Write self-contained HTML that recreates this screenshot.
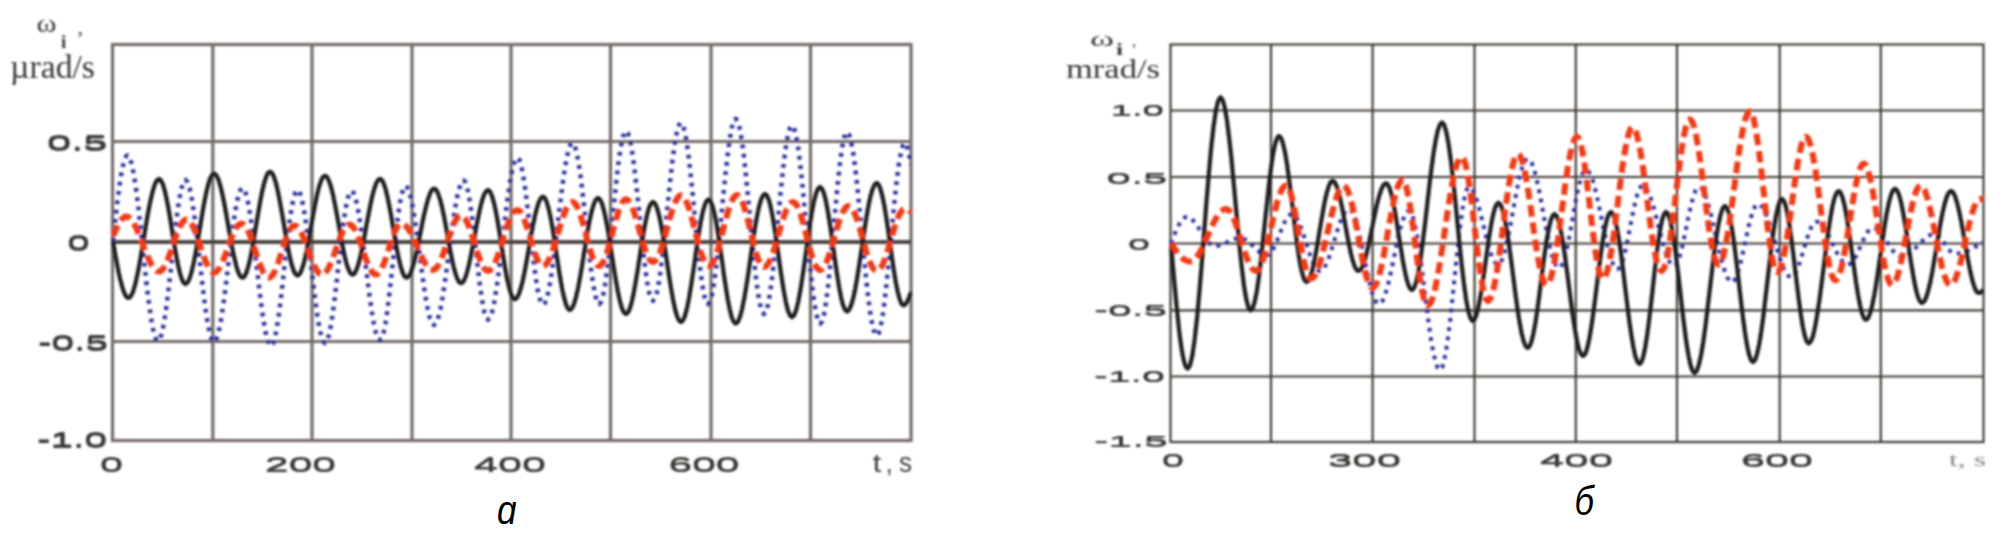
<!DOCTYPE html>
<html><head><meta charset="utf-8"><title>chart</title>
<style>html,body{margin:0;padding:0;background:#fff;}body{width:2008px;height:540px;overflow:hidden;font-family:"Liberation Sans",sans-serif;}svg{display:block;}</style>
</head><body>
<svg width="2008" height="540" viewBox="0 0 2008 540">
<rect width="2008" height="540" fill="#fff"/>
<g filter="url(#bl)">
<g stroke="#746c69" stroke-width="3.2" fill="none">
<line x1="212.8" y1="44.5" x2="212.8" y2="440.5"/>
<line x1="312" y1="44.5" x2="312" y2="440.5"/>
<line x1="412" y1="44.5" x2="412" y2="440.5"/>
<line x1="511" y1="44.5" x2="511" y2="440.5"/>
<line x1="610.5" y1="44.5" x2="610.5" y2="440.5"/>
<line x1="711" y1="44.5" x2="711" y2="440.5"/>
<line x1="810.5" y1="44.5" x2="810.5" y2="440.5"/>
<line x1="112.5" y1="141.5" x2="911" y2="141.5"/>
<line x1="112.5" y1="341.5" x2="911" y2="341.5"/>
<rect x="112.5" y="44.5" width="798.5" height="396"/>
</g>
<line x1="112.5" y1="242" x2="911" y2="242" stroke="#4a4542" stroke-width="4"/>
<g stroke="#403b35" stroke-width="2.2" fill="none">
<line x1="1271" y1="44.5" x2="1271" y2="442"/>
<line x1="1372.6" y1="44.5" x2="1372.6" y2="442"/>
<line x1="1474.5" y1="44.5" x2="1474.5" y2="442"/>
<line x1="1575.8" y1="44.5" x2="1575.8" y2="442"/>
<line x1="1677" y1="44.5" x2="1677" y2="442"/>
<line x1="1779.7" y1="44.5" x2="1779.7" y2="442"/>
<line x1="1880.8" y1="44.5" x2="1880.8" y2="442"/>
<line x1="1170.5" y1="110.5" x2="1983.5" y2="110.5"/>
<line x1="1170.5" y1="177" x2="1983.5" y2="177"/>
<line x1="1170.5" y1="243.5" x2="1983.5" y2="243.5"/>
<line x1="1170.5" y1="310.3" x2="1983.5" y2="310.3"/>
<line x1="1170.5" y1="376.5" x2="1983.5" y2="376.5"/>
<rect x="1170.5" y="44.5" width="813" height="397.5"/>
</g>
<g fill="none" stroke-linejoin="round">
<g clip-path="url(#ca)">
<path d="M113.0 241.5 L114.0 231.9 L115.1 222.3 L116.1 213.1 L117.1 204.1 L118.2 195.7 L119.2 187.8 L120.2 180.6 L121.3 174.2 L122.3 168.6 L123.4 163.9 L124.4 160.2 L125.4 157.6 L126.5 155.9 L127.5 155.4 L129.7 157.7 L131.9 164.6 L134.0 175.6 L136.2 190.3 L138.4 207.9 L140.6 227.6 L142.8 248.2 L144.9 268.8 L147.1 288.5 L149.3 306.1 L151.5 320.8 L153.6 331.8 L155.8 338.7 L158.0 341.0 L160.0 339.0 L161.9 333.0 L163.9 323.4 L165.9 310.7 L167.8 295.4 L169.8 278.4 L171.8 260.5 L173.7 242.6 L175.7 225.6 L177.6 210.3 L179.6 197.6 L181.6 188.0 L183.5 182.0 L185.5 180.0 L187.5 182.0 L189.6 188.0 L191.6 197.7 L193.6 210.5 L195.7 225.9 L197.7 243.0 L199.8 261.0 L201.8 279.0 L203.8 296.1 L205.9 311.5 L207.9 324.3 L209.9 334.0 L212.0 340.0 L214.0 342.0 L216.0 340.1 L218.1 334.4 L220.1 325.2 L222.1 313.0 L224.2 298.4 L226.2 282.1 L228.2 265.0 L230.3 247.9 L232.3 231.6 L234.4 217.0 L236.4 204.8 L238.4 195.6 L240.5 189.9 L242.5 188.0 L244.5 190.0 L246.6 195.8 L248.6 205.2 L250.6 217.7 L252.7 232.7 L254.7 249.4 L256.8 267.0 L258.8 284.6 L260.8 301.3 L262.9 316.3 L264.9 328.8 L266.9 338.2 L269.0 344.0 L271.0 346.0 L272.9 344.0 L274.8 338.3 L276.7 329.0 L278.6 316.6 L280.5 301.8 L282.4 285.4 L284.2 268.0 L286.1 250.6 L288.0 234.2 L289.9 219.4 L291.8 207.0 L293.7 197.7 L295.6 192.0 L297.5 190.0 L299.5 191.9 L301.4 197.6 L303.4 206.7 L305.4 218.8 L307.3 233.3 L309.3 249.5 L311.2 266.5 L313.2 283.5 L315.2 299.7 L317.1 314.2 L319.1 326.3 L321.1 335.4 L323.0 341.1 L325.0 343.0 L326.9 341.1 L328.8 335.5 L330.7 326.4 L332.6 314.4 L334.5 300.0 L336.4 283.9 L338.2 267.0 L340.1 250.1 L342.0 234.0 L343.9 219.6 L345.8 207.6 L347.7 198.5 L349.6 192.9 L351.5 191.0 L353.5 192.9 L355.6 198.4 L357.6 207.3 L359.6 219.1 L361.7 233.2 L363.7 248.9 L365.8 265.5 L367.8 282.1 L369.8 297.8 L371.9 311.9 L373.9 323.7 L375.9 332.6 L378.0 338.1 L380.0 340.0 L381.8 338.1 L383.6 332.4 L385.5 323.2 L387.3 311.0 L389.1 296.4 L390.9 280.1 L392.8 263.0 L394.6 245.9 L396.4 229.6 L398.2 215.0 L400.0 202.8 L401.9 193.6 L403.7 187.9 L405.5 186.0 L407.5 187.7 L409.6 192.9 L411.6 201.2 L413.6 212.2 L415.7 225.3 L417.7 240.0 L419.8 255.5 L421.8 271.0 L423.8 285.7 L425.9 298.8 L427.9 309.8 L429.9 318.1 L432.0 323.3 L434.0 325.0 L436.1 323.2 L438.2 317.8 L440.4 309.2 L442.5 297.8 L444.6 284.1 L446.7 268.8 L448.9 252.8 L451.0 236.7 L453.1 221.4 L455.2 207.7 L457.3 196.3 L459.5 187.7 L461.6 182.3 L463.7 180.5 L465.4 182.2 L467.2 187.4 L468.9 195.7 L470.6 206.7 L472.4 219.9 L474.1 234.6 L475.9 250.1 L477.6 265.5 L479.3 280.2 L481.1 293.4 L482.8 304.4 L484.5 312.7 L486.3 317.9 L488.0 319.6 L490.1 317.6 L492.2 311.6 L494.3 301.9 L496.4 289.1 L498.5 273.8 L500.6 256.7 L502.7 238.7 L504.8 220.6 L506.9 203.5 L509.0 188.2 L511.1 175.4 L513.2 165.7 L515.3 159.7 L517.4 157.7 L519.2 159.5 L521.1 165.0 L522.9 173.7 L524.7 185.4 L526.5 199.3 L528.4 214.9 L530.2 231.2 L532.0 247.6 L533.9 263.2 L535.7 277.1 L537.5 288.8 L539.3 297.5 L541.2 303.0 L543.0 304.8 L545.1 302.8 L547.2 296.8 L549.3 287.2 L551.4 274.3 L553.5 259.0 L555.6 241.9 L557.8 223.9 L559.9 205.9 L562.0 188.8 L564.1 173.5 L566.2 160.6 L568.3 151.0 L570.4 145.0 L572.5 143.0 L574.4 145.0 L576.3 151.0 L578.2 160.6 L580.2 173.3 L582.1 188.6 L584.0 205.6 L585.9 223.5 L587.8 241.4 L589.7 258.4 L591.6 273.7 L593.6 286.4 L595.5 296.0 L597.4 302.0 L599.3 304.0 L601.2 301.8 L603.1 295.4 L605.0 285.1 L606.9 271.4 L608.8 255.0 L610.7 236.7 L612.6 217.5 L614.6 198.3 L616.5 180.0 L618.4 163.6 L620.3 149.9 L622.2 139.6 L624.1 133.2 L626.0 131.0 L627.9 133.1 L629.9 139.4 L631.8 149.5 L633.7 163.0 L635.6 179.1 L637.6 197.0 L639.5 215.9 L641.4 234.8 L643.4 252.7 L645.3 268.8 L647.2 282.3 L649.1 292.4 L651.1 298.7 L653.0 300.8 L655.0 298.6 L657.0 292.0 L659.0 281.4 L661.0 267.3 L663.0 250.4 L665.0 231.6 L667.0 211.8 L669.0 192.0 L671.0 173.2 L673.0 156.3 L675.0 142.2 L677.0 131.6 L679.0 125.0 L681.0 122.8 L682.9 125.1 L684.9 131.8 L686.8 142.6 L688.7 156.9 L690.6 174.1 L692.6 193.2 L694.5 213.4 L696.4 233.6 L698.4 252.7 L700.3 269.9 L702.2 284.2 L704.1 295.0 L706.1 301.7 L708.0 304.0 L710.0 301.7 L712.0 294.8 L713.9 283.8 L715.9 269.1 L717.9 251.6 L719.9 232.0 L721.9 211.4 L723.8 190.8 L725.8 171.2 L727.8 153.7 L729.8 139.0 L731.7 128.0 L733.7 121.1 L735.7 118.8 L737.7 121.2 L739.7 128.5 L741.8 140.1 L743.8 155.5 L745.8 174.1 L747.8 194.7 L749.9 216.4 L751.9 238.1 L753.9 258.7 L755.9 277.3 L757.9 292.7 L760.0 304.3 L762.0 311.6 L764.0 314.0 L766.0 311.6 L768.0 304.7 L770.0 293.4 L772.0 278.5 L774.0 260.6 L776.0 240.7 L778.0 219.8 L780.0 198.8 L782.0 178.9 L784.0 161.0 L786.0 146.1 L788.0 134.8 L790.0 127.9 L792.0 125.5 L794.0 128.0 L796.0 135.3 L798.1 147.1 L800.1 162.8 L802.1 181.6 L804.1 202.5 L806.1 224.6 L808.2 246.6 L810.2 267.5 L812.2 286.3 L814.2 302.0 L816.3 313.8 L818.3 321.1 L820.3 323.6 L822.2 321.2 L824.1 314.1 L826.0 302.7 L827.9 287.5 L829.8 269.4 L831.7 249.1 L833.6 227.8 L835.6 206.5 L837.5 186.2 L839.4 168.1 L841.3 152.9 L843.2 141.5 L845.1 134.4 L847.0 132.0 L849.1 134.6 L851.2 142.1 L853.4 154.2 L855.5 170.3 L857.6 189.7 L859.7 211.2 L861.9 233.8 L864.0 256.5 L866.1 278.0 L868.2 297.4 L870.3 313.5 L872.5 325.6 L874.6 333.1 L876.7 335.7 L878.7 333.3 L880.7 326.2 L882.8 314.7 L884.8 299.4 L886.8 281.2 L888.8 260.8 L890.9 239.4 L892.9 217.9 L894.9 197.5 L896.9 179.3 L898.9 164.0 L901.0 152.5 L903.0 145.4 L905.0 143.0 L905.4 143.1 L905.9 143.6 L906.3 144.2 L906.7 145.2 L907.1 146.4 L907.6 147.8 L908.0 149.4 L908.4 151.3 L908.9 153.3 L909.3 155.5 L909.7 157.7 L910.1 160.1 L910.6 162.5 L911.0 165.0" stroke="#2c3398" stroke-width="4.5" stroke-dasharray="3.8 5.6"/>
<path d="M113.0 241.5 L114.1 247.8 L115.2 254.1 L116.3 260.2 L117.4 266.0 L118.5 271.6 L119.6 276.7 L120.8 281.5 L121.9 285.7 L123.0 289.3 L124.1 292.4 L125.2 294.8 L126.3 296.6 L127.4 297.6 L128.5 298.0 L130.7 296.5 L132.9 292.1 L135.0 285.0 L137.2 275.6 L139.4 264.3 L141.6 251.7 L143.8 238.5 L145.9 225.3 L148.1 212.7 L150.3 201.4 L152.5 192.0 L154.6 184.9 L156.8 180.5 L159.0 179.0 L160.9 180.3 L162.8 184.2 L164.7 190.5 L166.6 198.8 L168.5 208.7 L170.4 219.8 L172.2 231.5 L174.1 243.2 L176.0 254.3 L177.9 264.2 L179.8 272.5 L181.7 278.8 L183.6 282.7 L185.5 284.0 L187.5 282.6 L189.6 278.5 L191.6 271.9 L193.6 263.2 L195.7 252.7 L197.7 241.0 L199.8 228.8 L201.8 216.5 L203.8 204.8 L205.9 194.3 L207.9 185.6 L209.9 179.0 L212.0 174.9 L214.0 173.5 L216.0 174.8 L218.1 178.7 L220.1 184.9 L222.1 193.1 L224.2 203.0 L226.2 214.0 L228.2 225.6 L230.3 237.2 L232.3 248.2 L234.4 258.1 L236.4 266.3 L238.4 272.5 L240.5 276.4 L242.5 277.7 L244.5 276.4 L246.4 272.5 L248.4 266.1 L250.4 257.7 L252.3 247.7 L254.3 236.5 L256.2 224.7 L258.2 212.9 L260.2 201.7 L262.1 191.7 L264.1 183.3 L266.1 176.9 L268.0 173.0 L270.0 171.7 L272.0 173.0 L273.9 176.8 L275.9 183.0 L277.9 191.3 L279.8 201.1 L281.8 212.1 L283.8 223.7 L285.7 235.2 L287.7 246.2 L289.6 256.0 L291.6 264.3 L293.6 270.5 L295.5 274.3 L297.5 275.6 L299.5 274.3 L301.4 270.7 L303.4 264.7 L305.4 256.8 L307.3 247.3 L309.3 236.8 L311.2 225.7 L313.2 214.5 L315.2 204.0 L317.1 194.5 L319.1 186.6 L321.1 180.6 L323.0 177.0 L325.0 175.7 L327.0 176.9 L328.9 180.6 L330.9 186.5 L332.9 194.3 L334.8 203.7 L336.8 214.1 L338.8 225.2 L340.7 236.2 L342.7 246.6 L344.6 256.0 L346.6 263.8 L348.6 269.7 L350.5 273.4 L352.5 274.6 L354.5 273.4 L356.4 269.9 L358.4 264.1 L360.4 256.6 L362.3 247.5 L364.3 237.4 L366.2 226.7 L368.2 216.0 L370.2 205.9 L372.1 196.8 L374.1 189.3 L376.1 183.5 L378.0 180.0 L380.0 178.8 L381.9 180.0 L383.8 183.7 L385.7 189.6 L387.6 197.4 L389.5 206.8 L391.4 217.2 L393.2 228.2 L395.1 239.3 L397.0 249.7 L398.9 259.1 L400.8 266.9 L402.7 272.8 L404.6 276.5 L406.5 277.7 L408.5 276.6 L410.5 273.3 L412.4 268.0 L414.4 260.9 L416.4 252.5 L418.4 243.1 L420.4 233.2 L422.3 223.2 L424.3 213.8 L426.3 205.4 L428.3 198.3 L430.2 193.0 L432.2 189.7 L434.2 188.6 L436.1 189.8 L438.0 193.3 L439.9 198.9 L441.9 206.4 L443.8 215.4 L445.7 225.4 L447.6 235.9 L449.5 246.5 L451.4 256.5 L453.3 265.5 L455.3 273.0 L457.2 278.6 L459.1 282.1 L461.0 283.3 L462.9 282.1 L464.9 278.7 L466.8 273.1 L468.7 265.7 L470.6 256.9 L472.6 247.0 L474.5 236.7 L476.4 226.3 L478.4 216.4 L480.3 207.6 L482.2 200.2 L484.1 194.6 L486.1 191.2 L488.0 190.0 L489.9 191.4 L491.8 195.4 L493.7 201.9 L495.7 210.6 L497.6 221.0 L499.5 232.5 L501.4 244.7 L503.3 256.9 L505.2 268.4 L507.1 278.8 L509.1 287.5 L511.0 294.0 L512.9 298.0 L514.8 299.4 L516.8 298.1 L518.8 294.3 L520.8 288.2 L522.9 280.0 L524.9 270.3 L526.9 259.4 L528.9 248.0 L530.9 236.6 L532.9 225.7 L534.9 216.0 L537.0 207.8 L539.0 201.7 L541.0 197.9 L543.0 196.6 L544.9 198.0 L546.8 202.2 L548.7 209.0 L550.7 217.9 L552.6 228.7 L554.5 240.7 L556.4 253.3 L558.3 265.9 L560.2 277.9 L562.1 288.7 L564.1 297.6 L566.0 304.4 L567.9 308.6 L569.8 310.0 L571.8 308.6 L573.8 304.5 L575.8 297.8 L577.9 288.9 L579.9 278.3 L581.9 266.5 L583.9 254.0 L585.9 241.5 L587.9 229.7 L589.9 219.1 L592.0 210.2 L594.0 203.5 L596.0 199.4 L598.0 198.0 L600.0 199.5 L602.0 203.7 L604.0 210.7 L606.0 219.8 L608.0 230.8 L610.0 243.1 L612.0 256.0 L614.0 268.9 L616.0 281.2 L618.0 292.2 L620.0 301.3 L622.0 308.3 L624.0 312.5 L626.0 314.0 L627.9 312.6 L629.9 308.5 L631.8 301.8 L633.7 292.9 L635.6 282.3 L637.6 270.5 L639.5 258.0 L641.4 245.5 L643.4 233.7 L645.3 223.1 L647.2 214.2 L649.1 207.5 L651.1 203.4 L653.0 202.0 L655.0 203.5 L657.0 207.9 L659.0 215.1 L661.0 224.6 L663.0 236.0 L665.0 248.6 L667.0 262.0 L669.0 275.4 L671.0 288.0 L673.0 299.4 L675.0 308.9 L677.0 316.1 L679.0 320.5 L681.0 322.0 L683.0 320.5 L684.9 315.9 L686.9 308.6 L688.9 298.9 L690.8 287.3 L692.8 274.3 L694.8 260.7 L696.7 247.1 L698.7 234.1 L700.6 222.5 L702.6 212.8 L704.6 205.5 L706.5 200.9 L708.5 199.4 L710.4 201.0 L712.4 205.5 L714.3 212.9 L716.3 222.8 L718.2 234.6 L720.2 247.7 L722.1 261.5 L724.0 275.3 L726.0 288.4 L727.9 300.2 L729.9 310.1 L731.8 317.5 L733.8 322.0 L735.7 323.6 L737.8 322.0 L739.9 317.2 L742.0 309.5 L744.1 299.2 L746.2 286.9 L748.3 273.2 L750.4 258.8 L752.4 244.4 L754.5 230.7 L756.6 218.4 L758.7 208.1 L760.8 200.4 L762.9 195.6 L765.0 194.0 L766.9 195.5 L768.9 200.1 L770.8 207.4 L772.7 217.2 L774.6 228.8 L776.6 241.8 L778.5 255.5 L780.4 269.2 L782.4 282.2 L784.3 293.8 L786.2 303.6 L788.1 310.9 L790.1 315.5 L792.0 317.0 L794.0 315.4 L796.0 310.6 L798.0 302.8 L800.0 292.5 L802.0 280.2 L804.0 266.5 L806.0 252.0 L808.0 237.5 L810.0 223.8 L812.0 211.5 L814.0 201.2 L816.0 193.4 L818.0 188.6 L820.0 187.0 L821.9 188.6 L823.9 193.2 L825.8 200.6 L827.7 210.4 L829.6 222.2 L831.6 235.4 L833.5 249.2 L835.4 263.1 L837.4 276.3 L839.3 288.1 L841.2 297.9 L843.1 305.3 L845.1 309.9 L847.0 311.5 L849.1 309.9 L851.2 305.1 L853.4 297.5 L855.5 287.3 L857.6 275.1 L859.7 261.5 L861.9 247.2 L864.0 233.0 L866.1 219.4 L868.2 207.2 L870.3 197.0 L872.5 189.4 L874.6 184.6 L876.7 183.0 L878.6 184.5 L880.5 189.1 L882.4 196.4 L884.4 206.0 L886.3 217.6 L888.2 230.6 L890.1 244.2 L892.0 257.8 L893.9 270.8 L895.8 282.4 L897.8 292.0 L899.7 299.3 L901.6 303.9 L903.5 305.4 L904.0 305.3 L904.6 305.1 L905.1 304.6 L905.6 304.1 L906.2 303.3 L906.7 302.5 L907.2 301.5 L907.8 300.4 L908.3 299.1 L908.9 297.8 L909.4 296.4 L909.9 295.0 L910.5 293.5 L911.0 292.0" stroke="#1c1c1c" stroke-width="4.2"/>
<path d="M113.0 236.0 L114.0 233.8 L114.9 231.7 L115.9 229.6 L116.8 227.5 L117.8 225.6 L118.7 223.8 L119.7 222.2 L120.7 220.8 L121.6 219.5 L122.6 218.4 L123.5 217.6 L124.5 217.0 L125.4 216.6 L126.4 216.5 L128.7 217.2 L131.1 219.2 L133.4 222.5 L135.7 226.9 L138.0 232.1 L140.4 237.9 L142.7 244.1 L145.0 250.2 L147.4 256.0 L149.7 261.2 L152.0 265.6 L154.3 268.9 L156.7 270.9 L159.0 271.6 L161.0 270.9 L162.9 269.0 L164.9 265.9 L166.9 261.8 L168.8 256.9 L170.8 251.3 L172.8 245.6 L174.7 239.8 L176.7 234.2 L178.6 229.3 L180.6 225.2 L182.6 222.1 L184.5 220.2 L186.5 219.5 L188.5 220.2 L190.4 222.1 L192.4 225.3 L194.4 229.5 L196.3 234.5 L198.3 240.1 L200.2 246.1 L202.2 252.0 L204.2 257.6 L206.1 262.6 L208.1 266.8 L210.1 270.0 L212.0 271.9 L214.0 272.6 L216.0 272.0 L217.9 270.2 L219.9 267.3 L221.9 263.4 L223.8 258.7 L225.8 253.6 L227.8 248.1 L229.7 242.6 L231.7 237.5 L233.6 232.8 L235.6 228.9 L237.6 226.0 L239.5 224.2 L241.5 223.6 L243.5 224.3 L245.4 226.3 L247.4 229.5 L249.4 233.8 L251.3 238.9 L253.3 244.6 L255.2 250.6 L257.2 256.7 L259.2 262.4 L261.1 267.5 L263.1 271.8 L265.1 275.0 L267.0 277.0 L269.0 277.7 L270.8 277.0 L272.6 275.1 L274.5 272.0 L276.3 267.9 L278.1 263.0 L279.9 257.4 L281.8 251.7 L283.6 245.9 L285.4 240.3 L287.2 235.4 L289.0 231.3 L290.9 228.2 L292.7 226.3 L294.5 225.6 L296.5 226.2 L298.4 228.0 L300.4 230.9 L302.4 234.8 L304.3 239.5 L306.3 244.6 L308.2 250.1 L310.2 255.6 L312.2 260.7 L314.1 265.4 L316.1 269.3 L318.1 272.2 L320.0 274.0 L322.0 274.6 L324.0 274.0 L325.9 272.1 L327.9 269.1 L329.9 265.2 L331.8 260.4 L333.8 255.2 L335.8 249.6 L337.7 244.0 L339.7 238.8 L341.6 234.0 L343.6 230.1 L345.6 227.1 L347.5 225.2 L349.5 224.6 L351.4 225.2 L353.3 227.1 L355.2 230.1 L357.1 234.0 L359.0 238.8 L360.9 244.0 L362.8 249.6 L364.6 255.2 L366.5 260.4 L368.4 265.2 L370.3 269.1 L372.2 272.1 L374.1 274.0 L376.0 274.6 L377.8 274.0 L379.6 272.1 L381.4 269.0 L383.3 265.0 L385.1 260.2 L386.9 254.8 L388.7 249.1 L390.5 243.4 L392.3 238.0 L394.1 233.2 L396.0 229.2 L397.8 226.1 L399.6 224.2 L401.4 223.6 L403.7 224.2 L405.9 225.9 L408.2 228.7 L410.4 232.3 L412.7 236.7 L414.9 241.6 L417.2 246.8 L419.5 252.0 L421.7 256.9 L424.0 261.3 L426.2 264.9 L428.5 267.7 L430.7 269.4 L433.0 270.0 L435.0 269.3 L437.0 267.3 L439.0 264.0 L441.0 259.7 L443.0 254.5 L445.0 248.8 L447.0 242.7 L449.0 236.6 L451.0 230.9 L453.0 225.7 L455.0 221.4 L457.0 218.1 L459.0 216.1 L461.0 215.4 L462.9 216.1 L464.9 218.2 L466.8 221.5 L468.7 225.9 L470.6 231.1 L472.6 237.0 L474.5 243.2 L476.4 249.4 L478.4 255.3 L480.3 260.5 L482.2 264.9 L484.1 268.2 L486.1 270.3 L488.0 271.0 L490.1 270.2 L492.2 268.0 L494.3 264.3 L496.4 259.5 L498.5 253.7 L500.6 247.3 L502.7 240.5 L504.8 233.7 L506.9 227.3 L509.0 221.5 L511.1 216.7 L513.2 213.0 L515.3 210.8 L517.4 210.0 L519.2 210.7 L521.1 212.8 L522.9 216.1 L524.7 220.5 L526.5 225.9 L528.4 231.8 L530.2 238.0 L532.0 244.2 L533.9 250.1 L535.7 255.5 L537.5 259.9 L539.3 263.2 L541.2 265.3 L543.0 266.0 L545.1 265.2 L547.2 262.8 L549.3 259.0 L551.4 254.0 L553.5 247.9 L555.6 241.1 L557.8 234.0 L559.9 226.9 L562.0 220.1 L564.1 214.0 L566.2 209.0 L568.3 205.2 L570.4 202.8 L572.5 202.0 L574.4 202.8 L576.3 205.2 L578.2 209.0 L580.1 214.0 L582.0 220.1 L583.9 226.9 L585.8 234.0 L587.6 241.1 L589.5 247.9 L591.4 254.0 L593.3 259.0 L595.2 262.8 L597.1 265.2 L599.0 266.0 L600.9 265.2 L602.9 262.7 L604.8 258.7 L606.7 253.4 L608.6 247.1 L610.6 240.1 L612.5 232.7 L614.4 225.2 L616.4 218.2 L618.3 211.9 L620.2 206.6 L622.1 202.6 L624.1 200.1 L626.0 199.3 L627.9 200.1 L629.9 202.4 L631.8 206.1 L633.7 211.1 L635.6 217.0 L637.6 223.7 L639.5 230.7 L641.4 237.6 L643.4 244.3 L645.3 250.2 L647.2 255.2 L649.1 258.9 L651.1 261.2 L653.0 262.0 L655.0 261.2 L657.0 258.7 L659.0 254.7 L661.0 249.4 L663.0 243.1 L665.0 236.1 L667.0 228.7 L669.0 221.2 L671.0 214.2 L673.0 207.9 L675.0 202.6 L677.0 198.6 L679.0 196.1 L681.0 195.3 L683.0 196.2 L685.0 198.8 L687.0 203.0 L689.0 208.6 L691.0 215.3 L693.0 222.8 L695.0 230.7 L697.0 238.5 L699.0 246.0 L701.0 252.7 L703.0 258.3 L705.0 262.5 L707.0 265.1 L709.0 266.0 L711.0 265.1 L713.0 262.5 L715.0 258.3 L717.0 252.6 L719.0 245.9 L721.0 238.4 L723.0 230.5 L725.0 222.6 L727.0 215.1 L729.0 208.4 L731.0 202.7 L733.0 198.5 L735.0 195.9 L737.0 195.0 L738.9 195.9 L740.9 198.6 L742.8 202.9 L744.7 208.6 L746.6 215.4 L748.6 223.0 L750.5 231.0 L752.4 239.0 L754.4 246.6 L756.3 253.4 L758.2 259.1 L760.1 263.4 L762.1 266.1 L764.0 267.0 L766.1 266.2 L768.1 263.8 L770.2 259.9 L772.3 254.8 L774.4 248.6 L776.4 241.7 L778.5 234.5 L780.6 227.3 L782.6 220.4 L784.7 214.2 L786.8 209.1 L788.9 205.2 L790.9 202.8 L793.0 202.0 L794.9 202.9 L796.9 205.4 L798.8 209.4 L800.7 214.8 L802.6 221.2 L804.6 228.4 L806.5 236.0 L808.4 243.6 L810.4 250.8 L812.3 257.2 L814.2 262.6 L816.1 266.6 L818.1 269.1 L820.0 270.0 L822.0 269.2 L824.1 266.8 L826.1 263.0 L828.1 258.0 L830.2 251.9 L832.2 245.1 L834.2 238.0 L836.3 230.9 L838.3 224.1 L840.4 218.0 L842.4 213.0 L844.4 209.2 L846.5 206.8 L848.5 206.0 L850.5 206.8 L852.5 209.2 L854.5 213.1 L856.6 218.2 L858.6 224.4 L860.6 231.3 L862.6 238.5 L864.6 245.7 L866.6 252.6 L868.6 258.8 L870.7 263.9 L872.7 267.8 L874.7 270.2 L876.7 271.0 L878.7 270.2 L880.7 267.9 L882.8 264.2 L884.8 259.3 L886.8 253.4 L888.8 246.8 L890.9 239.8 L892.9 232.9 L894.9 226.3 L896.9 220.4 L898.9 215.5 L901.0 211.8 L903.0 209.5 L905.0 208.7 L905.4 208.7 L905.9 208.8 L906.3 208.9 L906.7 209.0 L907.1 209.2 L907.6 209.4 L908.0 209.7 L908.4 209.9 L908.9 210.2 L909.3 210.6 L909.7 210.9 L910.1 211.3 L910.6 211.6 L911.0 212.0" stroke="#ee3a14" stroke-width="6" stroke-dasharray="11.5 6"/>
</g><g clip-path="url(#cb)">
<path d="M1171.0 243.5 L1172.1 240.5 L1173.3 237.6 L1174.4 234.7 L1175.5 232.0 L1176.6 229.4 L1177.8 227.0 L1178.9 224.8 L1180.0 222.8 L1181.2 221.1 L1182.3 219.6 L1183.4 218.5 L1184.5 217.7 L1185.7 217.2 L1186.8 217.0 L1188.8 217.4 L1190.8 218.4 L1192.8 220.2 L1194.9 222.5 L1196.9 225.2 L1198.9 228.3 L1200.9 231.5 L1202.9 234.7 L1204.9 237.8 L1206.9 240.5 L1209.0 242.8 L1211.0 244.6 L1213.0 245.6 L1215.0 246.0 L1216.8 245.9 L1218.6 245.6 L1220.4 245.1 L1222.1 244.5 L1223.9 243.7 L1225.7 242.9 L1227.5 242.0 L1229.3 241.1 L1231.1 240.3 L1232.9 239.5 L1234.6 238.9 L1236.4 238.4 L1238.2 238.1 L1240.0 238.0 L1241.9 238.2 L1243.9 238.8 L1245.8 239.9 L1247.7 241.2 L1249.6 242.8 L1251.6 244.6 L1253.5 246.5 L1255.4 248.4 L1257.4 250.2 L1259.3 251.8 L1261.2 253.1 L1263.1 254.2 L1265.1 254.8 L1267.0 255.0 L1268.8 254.5 L1270.6 253.0 L1272.4 250.5 L1274.1 247.3 L1275.9 243.4 L1277.7 239.1 L1279.5 234.5 L1281.3 229.9 L1283.1 225.6 L1284.9 221.7 L1286.6 218.5 L1288.4 216.0 L1290.2 214.5 L1292.0 214.0 L1294.0 214.7 L1296.0 216.8 L1298.0 220.2 L1300.0 224.7 L1302.0 230.1 L1304.0 236.2 L1306.0 242.5 L1308.0 248.8 L1310.0 254.9 L1312.0 260.3 L1314.0 264.8 L1316.0 268.2 L1318.0 270.3 L1320.0 271.0 L1322.1 270.2 L1324.1 267.9 L1326.2 264.2 L1328.3 259.3 L1330.4 253.5 L1332.4 246.9 L1334.5 240.0 L1336.6 233.1 L1338.6 226.5 L1340.7 220.7 L1342.8 215.8 L1344.9 212.1 L1346.9 209.8 L1349.0 209.0 L1351.1 210.2 L1353.3 213.7 L1355.4 219.4 L1357.6 226.9 L1359.7 235.9 L1361.9 245.9 L1364.0 256.5 L1366.1 267.1 L1368.3 277.1 L1370.4 286.1 L1372.6 293.6 L1374.7 299.3 L1376.9 302.8 L1379.0 304.0 L1381.1 302.8 L1383.3 299.4 L1385.4 293.8 L1387.6 286.4 L1389.7 277.6 L1391.9 267.7 L1394.0 257.4 L1396.1 247.0 L1398.3 237.1 L1400.4 228.3 L1402.6 220.9 L1404.7 215.3 L1406.9 211.9 L1409.0 210.7 L1411.2 212.7 L1413.4 218.6 L1415.6 228.1 L1417.9 240.7 L1420.1 255.8 L1422.3 272.6 L1424.5 290.3 L1426.7 308.1 L1428.9 324.9 L1431.1 340.0 L1433.4 352.6 L1435.6 362.1 L1437.8 368.0 L1440.0 370.0 L1442.1 367.7 L1444.1 360.9 L1446.2 350.0 L1448.3 335.5 L1450.4 318.2 L1452.4 298.9 L1454.5 278.5 L1456.6 258.1 L1458.6 238.8 L1460.7 221.5 L1462.8 207.0 L1464.9 196.1 L1466.9 189.3 L1469.0 187.0 L1471.1 188.0 L1473.1 190.8 L1475.2 195.5 L1477.3 201.6 L1479.4 209.0 L1481.4 217.2 L1483.5 225.8 L1485.6 234.4 L1487.6 242.6 L1489.7 250.0 L1491.8 256.1 L1493.9 260.8 L1495.9 263.6 L1498.0 264.6 L1500.1 263.3 L1502.2 259.4 L1504.4 253.0 L1506.5 244.7 L1508.6 234.6 L1510.7 223.4 L1512.8 211.7 L1515.0 199.9 L1517.1 188.7 L1519.2 178.6 L1521.3 170.3 L1523.5 163.9 L1525.6 160.0 L1527.7 158.7 L1529.9 160.1 L1532.2 164.1 L1534.4 170.6 L1536.6 179.3 L1538.9 189.6 L1541.1 201.2 L1543.3 213.3 L1545.6 225.5 L1547.8 237.1 L1550.1 247.4 L1552.3 256.1 L1554.5 262.6 L1556.8 266.6 L1559.0 268.0 L1560.9 266.8 L1562.9 263.1 L1564.8 257.3 L1566.7 249.5 L1568.6 240.2 L1570.6 229.8 L1572.5 218.9 L1574.4 208.0 L1576.4 197.6 L1578.3 188.3 L1580.2 180.5 L1582.1 174.7 L1584.1 171.0 L1586.0 169.8 L1588.2 171.0 L1590.5 174.7 L1592.8 180.6 L1595.0 188.5 L1597.2 197.9 L1599.5 208.4 L1601.8 219.4 L1604.0 230.4 L1606.2 240.9 L1608.5 250.3 L1610.8 258.2 L1613.0 264.1 L1615.2 267.8 L1617.5 269.0 L1619.3 268.0 L1621.1 264.9 L1622.9 259.9 L1624.7 253.3 L1626.5 245.4 L1628.3 236.5 L1630.1 227.2 L1631.9 218.0 L1633.7 209.1 L1635.5 201.2 L1637.3 194.6 L1639.1 189.6 L1640.9 186.5 L1642.7 185.5 L1644.9 186.5 L1647.2 189.5 L1649.4 194.3 L1651.6 200.7 L1653.9 208.3 L1656.1 216.8 L1658.3 225.8 L1660.6 234.7 L1662.8 243.2 L1665.1 250.8 L1667.3 257.2 L1669.5 262.0 L1671.8 265.0 L1674.0 266.0 L1675.8 265.0 L1677.6 262.1 L1679.4 257.4 L1681.1 251.1 L1682.9 243.6 L1684.7 235.3 L1686.5 226.5 L1688.3 217.7 L1690.1 209.4 L1691.9 201.9 L1693.6 195.6 L1695.4 190.9 L1697.2 188.0 L1699.0 187.0 L1701.4 188.2 L1703.7 191.7 L1706.1 197.4 L1708.4 204.9 L1710.8 213.9 L1713.1 223.9 L1715.5 234.5 L1717.9 245.1 L1720.2 255.1 L1722.6 264.1 L1724.9 271.6 L1727.3 277.3 L1729.6 280.8 L1732.0 282.0 L1733.9 281.0 L1735.7 278.1 L1737.6 273.5 L1739.4 267.3 L1741.3 259.9 L1743.1 251.7 L1745.0 243.0 L1746.9 234.3 L1748.7 226.1 L1750.6 218.7 L1752.4 212.5 L1754.3 207.9 L1756.1 205.0 L1758.0 204.0 L1760.4 204.9 L1762.7 207.6 L1765.1 212.0 L1767.4 217.7 L1769.8 224.7 L1772.1 232.4 L1774.5 240.5 L1776.9 248.6 L1779.2 256.3 L1781.6 263.3 L1783.9 269.0 L1786.3 273.4 L1788.6 276.1 L1791.0 277.0 L1792.8 276.3 L1794.6 274.3 L1796.5 271.0 L1798.3 266.6 L1800.1 261.3 L1801.9 255.5 L1803.8 249.3 L1805.6 243.2 L1807.4 237.4 L1809.2 232.1 L1811.0 227.7 L1812.9 224.4 L1814.7 222.4 L1816.5 221.7 L1818.8 222.2 L1821.0 223.8 L1823.2 226.4 L1825.5 229.8 L1827.8 233.8 L1830.0 238.4 L1832.2 243.2 L1834.5 247.9 L1836.8 252.5 L1839.0 256.5 L1841.2 259.9 L1843.5 262.5 L1845.8 264.1 L1848.0 264.6 L1849.8 264.1 L1851.6 262.8 L1853.4 260.6 L1855.1 257.7 L1856.9 254.2 L1858.7 250.4 L1860.5 246.3 L1862.3 242.2 L1864.1 238.4 L1865.9 234.9 L1867.6 232.0 L1869.4 229.8 L1871.2 228.5 L1873.0 228.0 L1875.0 228.4 L1877.1 229.4 L1879.1 231.1 L1881.2 233.4 L1883.2 236.2 L1885.3 239.2 L1887.3 242.4 L1889.3 245.6 L1891.4 248.6 L1893.4 251.4 L1895.5 253.7 L1897.5 255.4 L1899.6 256.4 L1901.6 256.8 L1904.0 256.5 L1906.3 255.7 L1908.7 254.3 L1911.0 252.5 L1913.4 250.3 L1915.7 247.9 L1918.1 245.4 L1920.5 242.9 L1922.8 240.5 L1925.2 238.3 L1927.5 236.5 L1929.9 235.1 L1932.2 234.3 L1934.6 234.0 L1936.1 234.2 L1937.5 235.0 L1939.0 236.1 L1940.4 237.7 L1941.9 239.5 L1943.3 241.6 L1944.8 243.8 L1946.3 246.0 L1947.7 248.1 L1949.2 249.9 L1950.6 251.5 L1952.1 252.6 L1953.5 253.4 L1955.0 253.6 L1957.0 253.5 L1959.0 253.3 L1961.0 252.9 L1963.0 252.5 L1965.0 251.8 L1967.0 251.1 L1969.0 250.2 L1971.0 249.2 L1973.0 248.2 L1975.0 247.0 L1977.0 245.8 L1979.0 244.6 L1981.0 243.3 L1983.0 242.0" stroke="#2c3398" stroke-width="4.1" stroke-dasharray="3.8 5.6"/>
<path d="M1171.0 243.5 L1172.2 257.5 L1173.4 271.3 L1174.6 284.8 L1175.8 297.8 L1177.0 310.1 L1178.2 321.5 L1179.3 332.0 L1180.5 341.3 L1181.7 349.4 L1182.9 356.2 L1184.1 361.6 L1185.3 365.5 L1186.5 367.8 L1187.7 368.6 L1190.0 365.2 L1192.4 355.2 L1194.7 339.0 L1197.1 317.5 L1199.4 291.8 L1201.8 263.1 L1204.1 233.0 L1206.4 202.8 L1208.8 174.1 L1211.1 148.4 L1213.5 126.9 L1215.8 110.7 L1218.2 100.7 L1220.5 97.3 L1222.7 100.0 L1224.8 107.8 L1227.0 120.5 L1229.1 137.4 L1231.3 157.6 L1233.4 180.1 L1235.6 203.8 L1237.8 227.5 L1239.9 250.0 L1242.1 270.2 L1244.2 287.1 L1246.4 299.8 L1248.5 307.6 L1250.7 310.3 L1252.7 308.1 L1254.7 301.7 L1256.8 291.3 L1258.8 277.5 L1260.8 261.0 L1262.8 242.5 L1264.8 223.2 L1266.9 203.8 L1268.9 185.3 L1270.9 168.8 L1272.9 155.0 L1275.0 144.6 L1277.0 138.2 L1279.0 136.0 L1281.0 137.8 L1282.9 143.2 L1284.9 151.9 L1286.9 163.5 L1288.8 177.3 L1290.8 192.8 L1292.8 209.0 L1294.7 225.2 L1296.7 240.7 L1298.6 254.5 L1300.6 266.1 L1302.6 274.8 L1304.5 280.2 L1306.5 282.0 L1308.4 280.7 L1310.2 277.0 L1312.1 271.0 L1314.0 262.9 L1315.8 253.4 L1317.7 242.7 L1319.5 231.4 L1321.4 220.1 L1323.3 209.4 L1325.1 199.9 L1327.0 191.8 L1328.9 185.8 L1330.7 182.1 L1332.6 180.8 L1334.4 181.9 L1336.3 185.3 L1338.1 190.6 L1340.0 197.8 L1341.8 206.3 L1343.7 215.9 L1345.5 225.9 L1347.3 235.9 L1349.2 245.5 L1351.0 254.0 L1352.9 261.2 L1354.7 266.5 L1356.6 269.9 L1358.4 271.0 L1360.4 269.9 L1362.3 266.7 L1364.3 261.4 L1366.3 254.5 L1368.3 246.2 L1370.2 236.9 L1372.2 227.2 L1374.2 217.4 L1376.1 208.1 L1378.1 199.8 L1380.1 192.9 L1382.1 187.6 L1384.0 184.4 L1386.0 183.3 L1387.9 184.6 L1389.7 188.6 L1391.6 194.9 L1393.4 203.4 L1395.3 213.5 L1397.1 224.8 L1399.0 236.7 L1400.9 248.5 L1402.7 259.8 L1404.6 269.9 L1406.4 278.4 L1408.3 284.7 L1410.1 288.7 L1412.0 290.0 L1414.1 287.9 L1416.3 281.7 L1418.4 271.7 L1420.6 258.5 L1422.7 242.6 L1424.9 224.9 L1427.0 206.2 L1429.1 187.6 L1431.3 169.9 L1433.4 154.0 L1435.6 140.8 L1437.7 130.8 L1439.9 124.6 L1442.0 122.5 L1444.2 125.0 L1446.4 132.3 L1448.6 144.2 L1450.8 159.9 L1453.0 178.7 L1455.2 199.7 L1457.3 221.8 L1459.5 243.8 L1461.7 264.8 L1463.9 283.6 L1466.1 299.3 L1468.3 311.2 L1470.5 318.5 L1472.7 321.0 L1474.5 319.5 L1476.4 315.1 L1478.2 308.1 L1480.0 298.7 L1481.9 287.5 L1483.7 275.1 L1485.6 261.9 L1487.4 248.7 L1489.2 236.3 L1491.1 225.1 L1492.9 215.7 L1494.7 208.7 L1496.6 204.3 L1498.4 202.8 L1500.5 204.6 L1502.6 210.0 L1504.7 218.6 L1506.8 230.1 L1508.9 243.9 L1511.0 259.2 L1513.1 275.4 L1515.1 291.6 L1517.2 306.9 L1519.3 320.7 L1521.4 332.2 L1523.5 340.8 L1525.6 346.2 L1527.7 348.0 L1529.6 346.3 L1531.5 341.4 L1533.4 333.4 L1535.4 322.8 L1537.3 310.1 L1539.2 295.9 L1541.1 281.0 L1543.0 266.1 L1544.9 251.9 L1546.8 239.2 L1548.8 228.6 L1550.7 220.6 L1552.6 215.7 L1554.5 214.0 L1556.5 215.8 L1558.6 221.0 L1560.6 229.5 L1562.6 240.7 L1564.7 254.2 L1566.7 269.2 L1568.8 285.0 L1570.8 300.8 L1572.8 315.8 L1574.9 329.3 L1576.9 340.5 L1578.9 349.0 L1581.0 354.2 L1583.0 356.0 L1585.0 354.2 L1587.0 348.9 L1589.0 340.3 L1591.0 328.9 L1593.0 315.2 L1595.0 300.0 L1597.0 284.0 L1599.0 268.0 L1601.0 252.8 L1603.0 239.1 L1605.0 227.7 L1607.0 219.1 L1609.0 213.8 L1611.0 212.0 L1613.0 213.9 L1615.1 219.5 L1617.1 228.6 L1619.1 240.6 L1621.2 255.0 L1623.2 271.1 L1625.2 288.0 L1627.3 304.9 L1629.3 321.0 L1631.4 335.4 L1633.4 347.4 L1635.4 356.5 L1637.5 362.1 L1639.5 364.0 L1641.4 362.1 L1643.3 356.5 L1645.2 347.4 L1647.1 335.4 L1649.0 321.0 L1650.9 304.9 L1652.8 288.0 L1654.6 271.1 L1656.5 255.0 L1658.4 240.6 L1660.3 228.6 L1662.2 219.5 L1664.1 213.9 L1666.0 212.0 L1668.0 214.0 L1670.1 220.0 L1672.1 229.6 L1674.2 242.3 L1676.2 257.6 L1678.3 274.6 L1680.3 292.5 L1682.3 310.4 L1684.4 327.4 L1686.4 342.7 L1688.5 355.4 L1690.5 365.0 L1692.6 371.0 L1694.6 373.0 L1696.8 370.9 L1698.9 364.7 L1701.1 354.8 L1703.3 341.6 L1705.5 325.7 L1707.6 308.1 L1709.8 289.5 L1712.0 270.9 L1714.1 253.3 L1716.3 237.4 L1718.5 224.2 L1720.7 214.3 L1722.8 208.1 L1725.0 206.0 L1727.0 208.0 L1729.0 213.7 L1731.0 223.0 L1733.0 235.4 L1735.0 250.2 L1737.0 266.6 L1739.0 284.0 L1741.0 301.4 L1743.0 317.8 L1745.0 332.6 L1747.0 345.0 L1749.0 354.3 L1751.0 360.0 L1753.0 362.0 L1755.1 360.0 L1757.1 353.9 L1759.2 344.2 L1761.3 331.3 L1763.4 315.9 L1765.4 298.6 L1767.5 280.5 L1769.6 262.4 L1771.6 245.1 L1773.7 229.7 L1775.8 216.8 L1777.9 207.1 L1779.9 201.0 L1782.0 199.0 L1783.9 200.8 L1785.8 206.2 L1787.7 214.8 L1789.6 226.2 L1791.5 239.9 L1793.4 255.1 L1795.3 271.2 L1797.3 287.3 L1799.2 302.5 L1801.1 316.2 L1803.0 327.6 L1804.9 336.2 L1806.8 341.6 L1808.7 343.4 L1810.8 341.5 L1813.0 335.9 L1815.1 326.8 L1817.2 314.7 L1819.4 300.3 L1821.5 284.2 L1823.7 267.2 L1825.8 250.2 L1827.9 234.1 L1830.1 219.7 L1832.2 207.6 L1834.3 198.5 L1836.5 192.9 L1838.6 191.0 L1840.6 192.6 L1842.5 197.4 L1844.5 205.1 L1846.4 215.2 L1848.4 227.5 L1850.3 241.1 L1852.3 255.4 L1854.3 269.7 L1856.2 283.3 L1858.2 295.6 L1860.1 305.7 L1862.1 313.4 L1864.0 318.2 L1866.0 319.8 L1868.1 318.2 L1870.1 313.3 L1872.2 305.5 L1874.3 295.1 L1876.4 282.7 L1878.4 268.8 L1880.5 254.2 L1882.6 239.7 L1884.6 225.8 L1886.7 213.4 L1888.8 203.0 L1890.9 195.2 L1892.9 190.3 L1895.0 188.7 L1896.9 190.1 L1898.9 194.4 L1900.8 201.2 L1902.7 210.2 L1904.6 221.1 L1906.6 233.1 L1908.5 245.8 L1910.4 258.6 L1912.4 270.6 L1914.3 281.5 L1916.2 290.5 L1918.1 297.3 L1920.1 301.6 L1922.0 303.0 L1924.1 301.6 L1926.1 297.5 L1928.2 290.8 L1930.3 281.9 L1932.4 271.3 L1934.4 259.5 L1936.5 247.0 L1938.6 234.5 L1940.6 222.7 L1942.7 212.1 L1944.8 203.2 L1946.9 196.5 L1948.9 192.4 L1951.0 191.0 L1953.0 192.3 L1955.0 196.1 L1956.9 202.1 L1958.9 210.2 L1960.9 219.9 L1962.9 230.7 L1964.8 242.0 L1966.8 253.3 L1968.8 264.1 L1970.8 273.8 L1972.8 281.9 L1974.7 287.9 L1976.7 291.7 L1978.7 293.0 L1979.0 293.0 L1979.3 292.9 L1979.6 292.8 L1979.9 292.7 L1980.2 292.5 L1980.5 292.3 L1980.8 292.1 L1981.2 291.9 L1981.5 291.6 L1981.8 291.3 L1982.1 291.0 L1982.4 290.7 L1982.7 290.3 L1983.0 290.0" stroke="#1c1c1c" stroke-width="4.2"/>
<path d="M1171.0 243.5 L1172.4 245.5 L1173.7 247.5 L1175.1 249.4 L1176.4 251.3 L1177.8 253.1 L1179.1 254.7 L1180.5 256.2 L1181.9 257.6 L1183.2 258.7 L1184.6 259.7 L1185.9 260.5 L1187.3 261.0 L1188.6 261.4 L1190.0 261.5 L1192.6 260.8 L1195.1 258.9 L1197.7 255.8 L1200.3 251.6 L1202.9 246.6 L1205.4 241.1 L1208.0 235.2 L1210.6 229.4 L1213.1 223.9 L1215.7 218.9 L1218.3 214.7 L1220.9 211.6 L1223.4 209.7 L1226.0 209.0 L1228.1 209.8 L1230.3 212.1 L1232.4 215.8 L1234.6 220.7 L1236.7 226.5 L1238.9 233.1 L1241.0 240.0 L1243.1 246.9 L1245.3 253.5 L1247.4 259.3 L1249.6 264.2 L1251.7 267.9 L1253.9 270.2 L1256.0 271.0 L1258.1 269.9 L1260.3 266.8 L1262.4 261.7 L1264.6 254.9 L1266.7 246.8 L1268.9 237.8 L1271.0 228.2 L1273.1 218.7 L1275.3 209.7 L1277.4 201.6 L1279.6 194.8 L1281.7 189.7 L1283.9 186.6 L1286.0 185.5 L1287.8 186.7 L1289.6 190.1 L1291.4 195.7 L1293.1 203.1 L1294.9 211.9 L1296.7 221.8 L1298.5 232.2 L1300.3 242.5 L1302.1 252.4 L1303.9 261.2 L1305.6 268.6 L1307.4 274.2 L1309.2 277.6 L1311.0 278.8 L1313.4 277.6 L1315.7 274.2 L1318.1 268.7 L1320.4 261.3 L1322.8 252.5 L1325.1 242.7 L1327.5 232.4 L1329.9 222.1 L1332.2 212.3 L1334.6 203.5 L1336.9 196.1 L1339.3 190.6 L1341.6 187.2 L1344.0 186.0 L1346.0 187.3 L1348.1 191.1 L1350.1 197.1 L1352.2 205.2 L1354.2 214.9 L1356.3 225.7 L1358.3 237.0 L1360.3 248.3 L1362.4 259.1 L1364.4 268.8 L1366.5 276.9 L1368.5 282.9 L1370.6 286.7 L1372.6 288.0 L1374.7 286.6 L1376.9 282.7 L1379.0 276.2 L1381.1 267.7 L1383.3 257.4 L1385.4 246.0 L1387.5 234.0 L1389.7 222.0 L1391.8 210.6 L1394.0 200.3 L1396.1 191.8 L1398.2 185.3 L1400.4 181.4 L1402.5 180.0 L1404.3 181.6 L1406.1 186.2 L1407.9 193.7 L1409.7 203.6 L1411.5 215.6 L1413.3 228.8 L1415.1 242.8 L1416.9 256.8 L1418.7 270.0 L1420.5 282.0 L1422.3 291.9 L1424.1 299.4 L1425.9 304.0 L1427.7 305.6 L1430.1 303.7 L1432.6 298.2 L1435.0 289.4 L1437.4 277.6 L1439.8 263.5 L1442.3 247.8 L1444.7 231.3 L1447.1 214.8 L1449.6 199.1 L1452.0 185.0 L1454.4 173.2 L1456.8 164.4 L1459.3 158.9 L1461.7 157.0 L1463.6 158.8 L1465.5 164.1 L1467.3 172.7 L1469.2 184.1 L1471.1 197.8 L1473.0 213.0 L1474.8 229.0 L1476.7 245.0 L1478.6 260.2 L1480.5 273.9 L1482.4 285.3 L1484.2 293.9 L1486.1 299.2 L1488.0 301.0 L1490.1 299.2 L1492.3 293.7 L1494.4 285.0 L1496.6 273.3 L1498.7 259.4 L1500.9 243.9 L1503.0 227.5 L1505.1 211.1 L1507.3 195.6 L1509.4 181.7 L1511.6 170.0 L1513.7 161.3 L1515.9 155.8 L1518.0 154.0 L1520.0 155.6 L1522.1 160.5 L1524.1 168.3 L1526.2 178.7 L1528.2 191.1 L1530.3 204.9 L1532.3 219.5 L1534.3 234.1 L1536.4 247.9 L1538.4 260.3 L1540.5 270.7 L1542.5 278.5 L1544.6 283.4 L1546.6 285.0 L1548.8 283.1 L1550.9 277.7 L1553.1 268.8 L1555.3 257.1 L1557.5 243.0 L1559.6 227.3 L1561.8 210.9 L1564.0 194.4 L1566.1 178.7 L1568.3 164.6 L1570.5 152.9 L1572.7 144.0 L1574.8 138.6 L1577.0 136.7 L1578.9 138.5 L1580.7 143.7 L1582.6 152.2 L1584.4 163.5 L1586.3 177.0 L1588.1 192.0 L1590.0 207.8 L1591.9 223.7 L1593.7 238.7 L1595.6 252.2 L1597.4 263.5 L1599.3 272.0 L1601.1 277.2 L1603.0 279.0 L1605.1 277.1 L1607.2 271.5 L1609.3 262.4 L1611.5 250.4 L1613.6 236.0 L1615.7 219.9 L1617.8 203.0 L1619.9 186.1 L1622.0 170.0 L1624.1 155.6 L1626.3 143.6 L1628.4 134.5 L1630.5 128.9 L1632.6 127.0 L1634.7 128.8 L1636.7 134.1 L1638.8 142.7 L1640.9 154.1 L1643.0 167.8 L1645.0 183.0 L1647.1 199.0 L1649.2 215.0 L1651.2 230.2 L1653.3 243.9 L1655.4 255.3 L1657.5 263.9 L1659.5 269.2 L1661.6 271.0 L1663.6 269.1 L1665.7 263.5 L1667.7 254.5 L1669.7 242.5 L1671.7 228.1 L1673.8 212.1 L1675.8 195.2 L1677.8 178.3 L1679.9 162.3 L1681.9 147.9 L1683.9 135.9 L1685.9 126.9 L1688.0 121.3 L1690.0 119.4 L1692.0 121.2 L1694.1 126.6 L1696.1 135.2 L1698.1 146.7 L1700.2 160.5 L1702.2 175.8 L1704.2 192.0 L1706.3 208.2 L1708.3 223.5 L1710.4 237.3 L1712.4 248.8 L1714.4 257.4 L1716.5 262.8 L1718.5 264.6 L1720.7 262.7 L1723.0 257.0 L1725.2 247.9 L1727.4 235.8 L1729.7 221.3 L1731.9 205.1 L1734.2 188.1 L1736.4 171.0 L1738.6 154.8 L1740.9 140.3 L1743.1 128.2 L1745.3 119.1 L1747.6 113.4 L1749.8 111.5 L1751.8 113.5 L1753.8 119.4 L1755.7 129.0 L1757.7 141.7 L1759.7 156.9 L1761.7 173.9 L1763.7 191.8 L1765.6 209.6 L1767.6 226.6 L1769.6 241.8 L1771.6 254.5 L1773.5 264.1 L1775.5 270.0 L1777.5 272.0 L1779.5 270.3 L1781.6 265.3 L1783.6 257.2 L1785.6 246.5 L1787.7 233.7 L1789.7 219.4 L1791.8 204.4 L1793.8 189.3 L1795.8 175.0 L1797.9 162.2 L1799.9 151.5 L1801.9 143.4 L1804.0 138.4 L1806.0 136.7 L1808.1 138.5 L1810.2 143.8 L1812.3 152.4 L1814.4 163.8 L1816.5 177.4 L1818.6 192.6 L1820.7 208.5 L1822.8 224.5 L1824.9 239.7 L1827.0 253.3 L1829.1 264.7 L1831.2 273.3 L1833.3 278.6 L1835.4 280.4 L1837.4 278.9 L1839.5 274.6 L1841.5 267.6 L1843.5 258.4 L1845.5 247.3 L1847.6 235.0 L1849.6 221.9 L1851.6 208.9 L1853.7 196.6 L1855.7 185.5 L1857.7 176.3 L1859.7 169.3 L1861.8 165.0 L1863.8 163.5 L1865.8 165.0 L1867.8 169.5 L1869.8 176.8 L1871.9 186.4 L1873.9 197.9 L1875.9 210.7 L1877.9 224.2 L1879.9 237.8 L1881.9 250.6 L1883.9 262.1 L1886.0 271.7 L1888.0 279.0 L1890.0 283.5 L1892.0 285.0 L1894.0 283.8 L1896.1 280.1 L1898.1 274.1 L1900.1 266.3 L1902.2 256.8 L1904.2 246.3 L1906.2 235.2 L1908.3 224.2 L1910.3 213.7 L1912.4 204.2 L1914.4 196.4 L1916.4 190.4 L1918.5 186.7 L1920.5 185.5 L1922.6 186.7 L1924.8 190.4 L1926.9 196.4 L1929.0 204.2 L1931.2 213.7 L1933.3 224.2 L1935.5 235.2 L1937.6 246.3 L1939.7 256.8 L1941.9 266.3 L1944.0 274.1 L1946.1 280.1 L1948.3 283.8 L1950.4 285.0 L1952.5 283.9 L1954.6 280.7 L1956.7 275.6 L1958.9 268.8 L1961.0 260.7 L1963.1 251.6 L1965.2 242.0 L1967.3 232.4 L1969.4 223.3 L1971.5 215.2 L1973.7 208.4 L1975.8 203.3 L1977.9 200.1 L1980.0 199.0 L1980.2 199.0 L1980.4 199.0 L1980.6 199.1 L1980.9 199.1 L1981.1 199.2 L1981.3 199.2 L1981.5 199.3 L1981.7 199.4 L1981.9 199.5 L1982.1 199.6 L1982.4 199.7 L1982.6 199.8 L1982.8 199.9 L1983.0 200.0" stroke="#ee3a14" stroke-width="6" stroke-dasharray="11.5 6"/>
</g></g>
<text x="47" y="148.89999999999998" font-size="21" textLength="60.5" lengthAdjust="spacingAndGlyphs" fill="#3b3836" font-weight="normal" font-family="Liberation Sans, sans-serif">0.5</text><text x="47" y="149.7" font-size="21" textLength="60.5" lengthAdjust="spacingAndGlyphs" fill="#3b3836" font-weight="normal" font-family="Liberation Sans, sans-serif">0.5</text><text x="47" y="150.5" font-size="21" textLength="60.5" lengthAdjust="spacingAndGlyphs" fill="#3b3836" font-weight="normal" font-family="Liberation Sans, sans-serif">0.5</text>
<text x="67.5" y="249.39999999999998" font-size="20.5" textLength="22" lengthAdjust="spacingAndGlyphs" fill="#3b3836" font-weight="normal" font-family="Liberation Sans, sans-serif">0</text><text x="67.5" y="250.2" font-size="20.5" textLength="22" lengthAdjust="spacingAndGlyphs" fill="#3b3836" font-weight="normal" font-family="Liberation Sans, sans-serif">0</text><text x="67.5" y="251.0" font-size="20.5" textLength="22" lengthAdjust="spacingAndGlyphs" fill="#3b3836" font-weight="normal" font-family="Liberation Sans, sans-serif">0</text>
<text x="38" y="349.2" font-size="21" textLength="70" lengthAdjust="spacingAndGlyphs" fill="#3b3836" font-weight="normal" font-family="Liberation Sans, sans-serif">-0.5</text><text x="38" y="350" font-size="21" textLength="70" lengthAdjust="spacingAndGlyphs" fill="#3b3836" font-weight="normal" font-family="Liberation Sans, sans-serif">-0.5</text><text x="38" y="350.8" font-size="21" textLength="70" lengthAdjust="spacingAndGlyphs" fill="#3b3836" font-weight="normal" font-family="Liberation Sans, sans-serif">-0.5</text>
<text x="37" y="446.0" font-size="21" textLength="70" lengthAdjust="spacingAndGlyphs" fill="#3b3836" font-weight="normal" font-family="Liberation Sans, sans-serif">-1.0</text><text x="37" y="446.8" font-size="21" textLength="70" lengthAdjust="spacingAndGlyphs" fill="#3b3836" font-weight="normal" font-family="Liberation Sans, sans-serif">-1.0</text><text x="37" y="447.6" font-size="21" textLength="70" lengthAdjust="spacingAndGlyphs" fill="#3b3836" font-weight="normal" font-family="Liberation Sans, sans-serif">-1.0</text>
<text x="100" y="470.7" font-size="20" textLength="23" lengthAdjust="spacingAndGlyphs" fill="#3b3836" font-weight="normal" font-family="Liberation Sans, sans-serif">0</text><text x="100" y="471.5" font-size="20" textLength="23" lengthAdjust="spacingAndGlyphs" fill="#3b3836" font-weight="normal" font-family="Liberation Sans, sans-serif">0</text><text x="100" y="472.3" font-size="20" textLength="23" lengthAdjust="spacingAndGlyphs" fill="#3b3836" font-weight="normal" font-family="Liberation Sans, sans-serif">0</text>
<text x="265" y="470.7" font-size="20" textLength="71" lengthAdjust="spacingAndGlyphs" fill="#3b3836" font-weight="normal" font-family="Liberation Sans, sans-serif">200</text><text x="265" y="471.5" font-size="20" textLength="71" lengthAdjust="spacingAndGlyphs" fill="#3b3836" font-weight="normal" font-family="Liberation Sans, sans-serif">200</text><text x="265" y="472.3" font-size="20" textLength="71" lengthAdjust="spacingAndGlyphs" fill="#3b3836" font-weight="normal" font-family="Liberation Sans, sans-serif">200</text>
<text x="474" y="470.7" font-size="20" textLength="72" lengthAdjust="spacingAndGlyphs" fill="#3b3836" font-weight="normal" font-family="Liberation Sans, sans-serif">400</text><text x="474" y="471.5" font-size="20" textLength="72" lengthAdjust="spacingAndGlyphs" fill="#3b3836" font-weight="normal" font-family="Liberation Sans, sans-serif">400</text><text x="474" y="472.3" font-size="20" textLength="72" lengthAdjust="spacingAndGlyphs" fill="#3b3836" font-weight="normal" font-family="Liberation Sans, sans-serif">400</text>
<text x="668.5" y="470.7" font-size="20" textLength="71" lengthAdjust="spacingAndGlyphs" fill="#3b3836" font-weight="normal" font-family="Liberation Sans, sans-serif">600</text><text x="668.5" y="471.5" font-size="20" textLength="71" lengthAdjust="spacingAndGlyphs" fill="#3b3836" font-weight="normal" font-family="Liberation Sans, sans-serif">600</text><text x="668.5" y="472.3" font-size="20" textLength="71" lengthAdjust="spacingAndGlyphs" fill="#3b3836" font-weight="normal" font-family="Liberation Sans, sans-serif">600</text>
<text y="471.5" font-size="26" fill="#45413f" font-family="Liberation Sans, sans-serif"><tspan x="872.5" textLength="9" lengthAdjust="spacingAndGlyphs">t</tspan><tspan x="885.5">,</tspan><tspan x="899" font-size="28.5" textLength="13" lengthAdjust="spacingAndGlyphs">s</tspan></text>
<text x="36.5" y="32" font-size="25" textLength="20" lengthAdjust="spacingAndGlyphs" fill="#3b3836" font-family="Liberation Serif, serif">ω</text>
<text x="61" y="47.5" font-size="19" fill="#3b3836" font-family="Liberation Serif, serif" font-weight="bold">i</text>
<text x="77.5" y="34" font-size="22" fill="#3b3836" font-family="Liberation Serif, serif">,</text>
<text x="10" y="78" font-size="33" textLength="85" lengthAdjust="spacingAndGlyphs" fill="#3b3836" font-family="Liberation Serif, serif">µrad/s</text>
<text x="1110.5" y="114.5" font-size="14.5" textLength="53.5" lengthAdjust="spacingAndGlyphs" fill="#3b3836" font-weight="normal" font-family="Liberation Sans, sans-serif">1.0</text><text x="1110.5" y="115" font-size="14.5" textLength="53.5" lengthAdjust="spacingAndGlyphs" fill="#3b3836" font-weight="normal" font-family="Liberation Sans, sans-serif">1.0</text><text x="1110.5" y="115.5" font-size="14.5" textLength="53.5" lengthAdjust="spacingAndGlyphs" fill="#3b3836" font-weight="normal" font-family="Liberation Sans, sans-serif">1.0</text>
<text x="1106.5" y="182.5" font-size="14.5" textLength="61" lengthAdjust="spacingAndGlyphs" fill="#3b3836" font-weight="normal" font-family="Liberation Sans, sans-serif">0.5</text><text x="1106.5" y="183" font-size="14.5" textLength="61" lengthAdjust="spacingAndGlyphs" fill="#3b3836" font-weight="normal" font-family="Liberation Sans, sans-serif">0.5</text><text x="1106.5" y="183.5" font-size="14.5" textLength="61" lengthAdjust="spacingAndGlyphs" fill="#3b3836" font-weight="normal" font-family="Liberation Sans, sans-serif">0.5</text>
<text x="1128" y="248.7" font-size="14.5" textLength="22" lengthAdjust="spacingAndGlyphs" fill="#3b3836" font-weight="normal" font-family="Liberation Sans, sans-serif">0</text><text x="1128" y="249.2" font-size="14.5" textLength="22" lengthAdjust="spacingAndGlyphs" fill="#3b3836" font-weight="normal" font-family="Liberation Sans, sans-serif">0</text><text x="1128" y="249.7" font-size="14.5" textLength="22" lengthAdjust="spacingAndGlyphs" fill="#3b3836" font-weight="normal" font-family="Liberation Sans, sans-serif">0</text>
<text x="1094" y="315.0" font-size="14.5" textLength="73" lengthAdjust="spacingAndGlyphs" fill="#3b3836" font-weight="normal" font-family="Liberation Sans, sans-serif">-0.5</text><text x="1094" y="315.5" font-size="14.5" textLength="73" lengthAdjust="spacingAndGlyphs" fill="#3b3836" font-weight="normal" font-family="Liberation Sans, sans-serif">-0.5</text><text x="1094" y="316.0" font-size="14.5" textLength="73" lengthAdjust="spacingAndGlyphs" fill="#3b3836" font-weight="normal" font-family="Liberation Sans, sans-serif">-0.5</text>
<text x="1094" y="381.0" font-size="14.5" textLength="71" lengthAdjust="spacingAndGlyphs" fill="#3b3836" font-weight="normal" font-family="Liberation Sans, sans-serif">-1.0</text><text x="1094" y="381.5" font-size="14.5" textLength="71" lengthAdjust="spacingAndGlyphs" fill="#3b3836" font-weight="normal" font-family="Liberation Sans, sans-serif">-1.0</text><text x="1094" y="382.0" font-size="14.5" textLength="71" lengthAdjust="spacingAndGlyphs" fill="#3b3836" font-weight="normal" font-family="Liberation Sans, sans-serif">-1.0</text>
<text x="1094" y="445.5" font-size="14.5" textLength="74" lengthAdjust="spacingAndGlyphs" fill="#3b3836" font-weight="normal" font-family="Liberation Sans, sans-serif">-1.5</text><text x="1094" y="446" font-size="14.5" textLength="74" lengthAdjust="spacingAndGlyphs" fill="#3b3836" font-weight="normal" font-family="Liberation Sans, sans-serif">-1.5</text><text x="1094" y="446.5" font-size="14.5" textLength="74" lengthAdjust="spacingAndGlyphs" fill="#3b3836" font-weight="normal" font-family="Liberation Sans, sans-serif">-1.5</text>
<text x="1162" y="465.5" font-size="16.5" textLength="22" lengthAdjust="spacingAndGlyphs" fill="#3b3836" font-weight="normal" font-family="Liberation Sans, sans-serif">0</text><text x="1162" y="466" font-size="16.5" textLength="22" lengthAdjust="spacingAndGlyphs" fill="#3b3836" font-weight="normal" font-family="Liberation Sans, sans-serif">0</text><text x="1162" y="466.5" font-size="16.5" textLength="22" lengthAdjust="spacingAndGlyphs" fill="#3b3836" font-weight="normal" font-family="Liberation Sans, sans-serif">0</text>
<text x="1328" y="465.5" font-size="16.5" textLength="73" lengthAdjust="spacingAndGlyphs" fill="#3b3836" font-weight="normal" font-family="Liberation Sans, sans-serif">300</text><text x="1328" y="466" font-size="16.5" textLength="73" lengthAdjust="spacingAndGlyphs" fill="#3b3836" font-weight="normal" font-family="Liberation Sans, sans-serif">300</text><text x="1328" y="466.5" font-size="16.5" textLength="73" lengthAdjust="spacingAndGlyphs" fill="#3b3836" font-weight="normal" font-family="Liberation Sans, sans-serif">300</text>
<text x="1540" y="465.5" font-size="16.5" textLength="73" lengthAdjust="spacingAndGlyphs" fill="#3b3836" font-weight="normal" font-family="Liberation Sans, sans-serif">400</text><text x="1540" y="466" font-size="16.5" textLength="73" lengthAdjust="spacingAndGlyphs" fill="#3b3836" font-weight="normal" font-family="Liberation Sans, sans-serif">400</text><text x="1540" y="466.5" font-size="16.5" textLength="73" lengthAdjust="spacingAndGlyphs" fill="#3b3836" font-weight="normal" font-family="Liberation Sans, sans-serif">400</text>
<text x="1741" y="465.5" font-size="16.5" textLength="72" lengthAdjust="spacingAndGlyphs" fill="#3b3836" font-weight="normal" font-family="Liberation Sans, sans-serif">600</text><text x="1741" y="466" font-size="16.5" textLength="72" lengthAdjust="spacingAndGlyphs" fill="#3b3836" font-weight="normal" font-family="Liberation Sans, sans-serif">600</text><text x="1741" y="466.5" font-size="16.5" textLength="72" lengthAdjust="spacingAndGlyphs" fill="#3b3836" font-weight="normal" font-family="Liberation Sans, sans-serif">600</text>
<text x="1949" y="466" font-size="18" textLength="37" lengthAdjust="spacingAndGlyphs" fill="#8a8683" font-family="Liberation Serif, serif">t, s</text>
<text x="1090" y="45.5" font-size="21" textLength="24" lengthAdjust="spacingAndGlyphs" fill="#3b3836" font-family="Liberation Serif, serif">ω</text>
<text x="1116" y="55" font-size="16" textLength="7" lengthAdjust="spacingAndGlyphs" fill="#3b3836" font-family="Liberation Serif, serif" font-weight="bold">i</text>
<text x="1132" y="46" font-size="16" fill="#3b3836" font-family="Liberation Serif, serif">,</text>
<text x="1066" y="78" font-size="27" textLength="94" lengthAdjust="spacingAndGlyphs" fill="#3b3836" font-family="Liberation Serif, serif">mrad/s</text>
</g>
<text x="497" y="524" font-size="41.5" textLength="19.5" lengthAdjust="spacingAndGlyphs" font-style="italic" fill="#000" font-family="Liberation Sans, sans-serif">ɑ</text>
<text x="1574.5" y="515" font-size="40" textLength="19.5" lengthAdjust="spacingAndGlyphs" font-style="italic" fill="#000" font-family="Liberation Sans, sans-serif">б</text>
<defs><clipPath id="ca"><rect x="111" y="40" width="801.5" height="404"/></clipPath><clipPath id="cb"><rect x="1169" y="40" width="815.5" height="404"/></clipPath><filter id="bl" x="0" y="0" width="100%" height="100%" filterUnits="userSpaceOnUse"><feGaussianBlur stdDeviation="1.0"/></filter></defs>
</svg>
</body></html>
